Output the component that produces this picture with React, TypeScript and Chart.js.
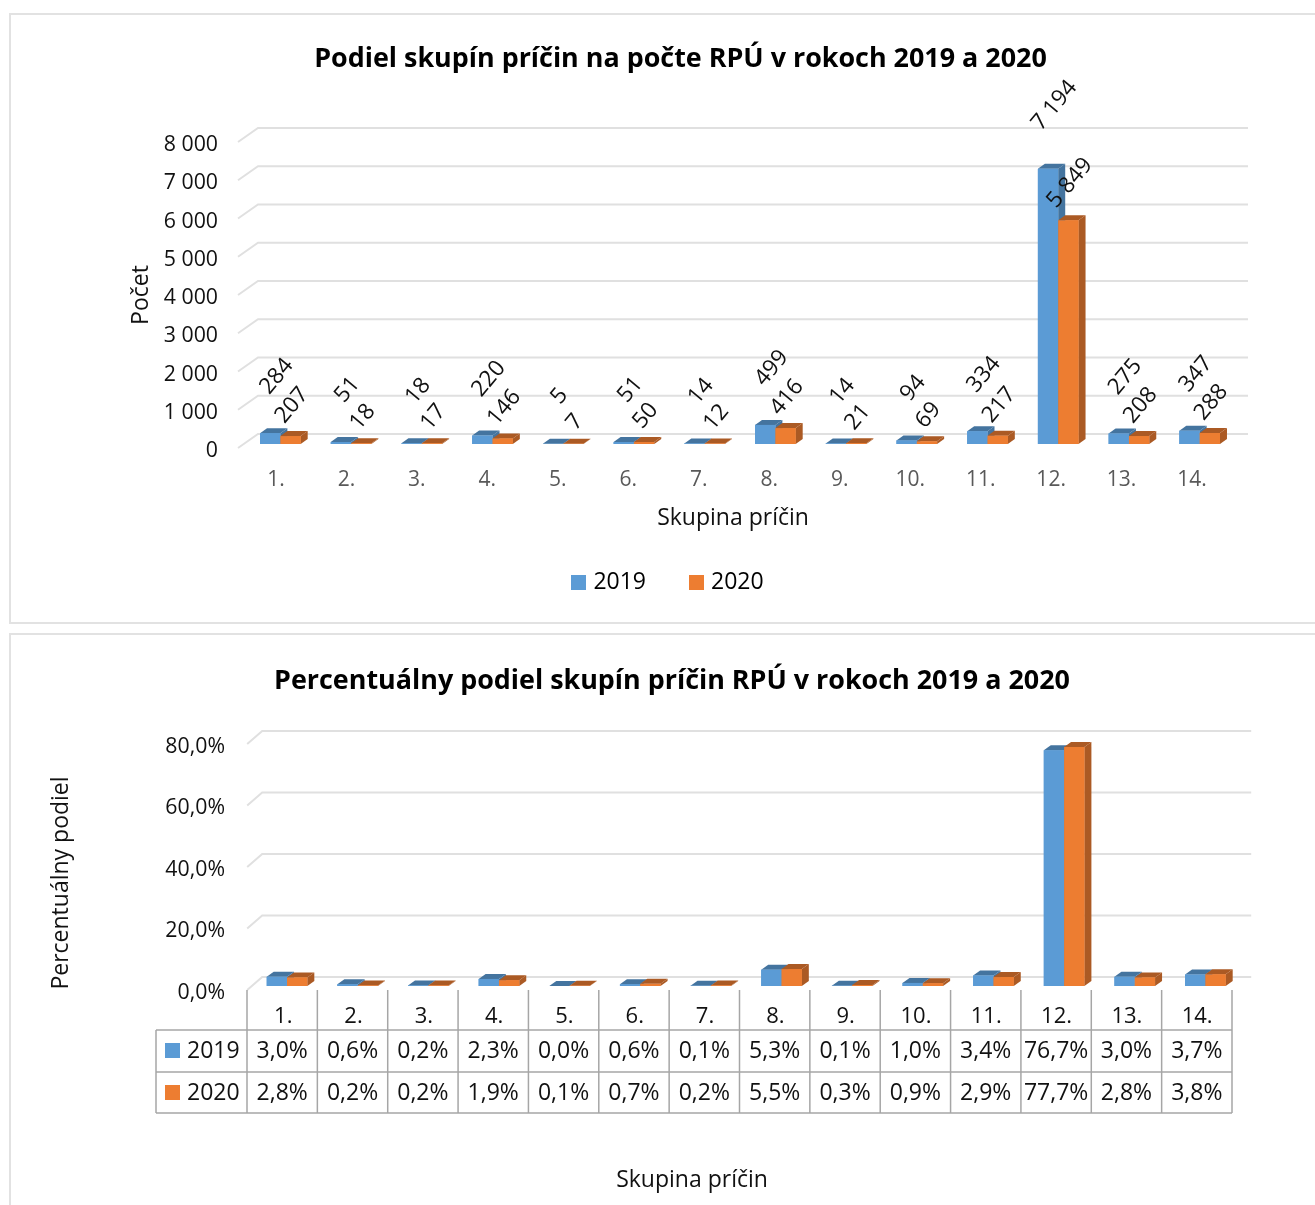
import React, { useEffect, useRef } from "react";
import { Chart, registerables } from "chart.js";

Chart.register(...registerables);

const categories = ["1.", "2.", "3.", "4.", "5.", "6.", "7.", "8.", "9.", "10.", "11.", "12.", "13.", "14."];
const counts2019 = [284, 51, 18, 220, 5, 51, 14, 499, 14, 94, 334, 7194, 275, 347];
const counts2020 = [207, 18, 17, 146, 7, 50, 12, 416, 21, 69, 217, 5849, 208, 288];
const share2019 = [3.0, 0.6, 0.2, 2.3, 0.0, 0.6, 0.1, 5.3, 0.1, 1.0, 3.4, 76.7, 3.0, 3.7];
const share2020 = [2.8, 0.2, 0.2, 1.9, 0.1, 0.7, 0.2, 5.5, 0.3, 0.9, 2.9, 77.7, 2.8, 3.8];
const seriesNames = ["2019", "2020"];

const FONT = '"Open Sans"';
const BLUE = "#5b9bd5";
const ORANGE = "#ed7d31";
const BLUE_DARK = "#44749f";
const ORANGE_DARK = "#ab5a24";
const GRID = "#e0e0e0";
const TABLE_LINE = "#a6a6a6";
const DEPTH_X = 7;
const DEPTH_Y = 5;

const thousands = (v: number) => String(v).replace(/\B(?=(\d{3})+$)/g, " ");
const percent = (v: number) => v.toFixed(1).replace(".", ",") + "%";

// Draws the back-wall grid, the floor stubs and the 3D faces of each bar.
const depthPlugin = (gridShift: number, frontDrop: number, wallDx: number, stubDx: number) => ({
  id: "depth3d",
  beforeDatasetsDraw(chart: any) {
    const { ctx, scales, chartArea } = chart;
    const y = scales.y;
    ctx.save();
    ctx.strokeStyle = GRID;
    ctx.lineWidth = 2;
    y.ticks.forEach((t: any) => {
      const p = y.getPixelForValue(t.value);
      ctx.beginPath();
      ctx.moveTo(chartArea.left + wallDx - stubDx, p + frontDrop);
      ctx.lineTo(chartArea.left + wallDx, p - gridShift);
      ctx.lineTo(chartArea.right + wallDx, p - gridShift);
      ctx.stroke();
    });
    ctx.restore();
  },
  afterDatasetsDraw(chart: any) {
    const { ctx } = chart;
    chart.data.datasets.forEach((ds: any, i: number) => {
      const dark = ds.sideColor;
      chart.getDatasetMeta(i).data.forEach((el: any) => {
        const l = el.x - el.width / 2;
        const r = el.x + el.width / 2;
        ctx.save();
        ctx.fillStyle = dark;
        ctx.beginPath();
        ctx.moveTo(r, el.y);
        ctx.lineTo(r + DEPTH_X, el.y - DEPTH_Y);
        ctx.lineTo(r + DEPTH_X, el.base - DEPTH_Y);
        ctx.lineTo(r, el.base);
        ctx.closePath();
        ctx.fill();
        ctx.beginPath();
        ctx.moveTo(l, el.y);
        ctx.lineTo(l + DEPTH_X, el.y - DEPTH_Y);
        ctx.lineTo(r + DEPTH_X, el.y - DEPTH_Y);
        ctx.lineTo(r, el.y);
        ctx.closePath();
        ctx.fill();
        ctx.restore();
        el.draw(ctx);
      });
    });
  },
});

// Moves the library's own title, legend, tick labels and axis titles to their exact spot.
const placementPlugin = (p: any) => ({
  id: "placement",
  afterLayout(chart: any) {
    if (chart.$placed) return;
    chart.$placed = true;
    chart.titleBlock.left += p.titleDx;
    chart.titleBlock.right += p.titleDx;
    if (chart.legend && p.legendDx !== undefined) {
      chart.legend.left += p.legendDx;
      chart.legend.right += p.legendDx;
      chart.legend.top += p.legendDy;
      chart.legend.bottom += p.legendDy;
    }
    (["x", "y"] as const).forEach((k) => {
      const s = chart.scales[k];
      const original = s.drawTitle;
      s.drawTitle = function () {
        chart.ctx.save();
        chart.ctx.translate(p[k + "TitleDx"], p[k + "TitleDy"]);
        original.call(this);
        chart.ctx.restore();
      };
    });
  },
  beforeDraw(chart: any) {
    // The category labels run on a slightly tighter step than the bars.
    if (chart.$ticksPlaced) return;
    chart.$ticksPlaced = true;
    const items = chart.scales.x.getLabelItems(chart.chartArea);
    const mid = (items.length - 1) / 2;
    items.forEach((it: any, i: number) => {
      it.options.translation[0] += (i - mid) * p.labelStepAdjust;
    });
  },
});

const valueLabelPlugin = {
  id: "valueLabels",
  afterDatasetsDraw(chart: any) {
    const { ctx } = chart;
    ctx.save();
    ctx.font = `22.5px ${FONT}`;
    ctx.fillStyle = "#111111";
    ctx.textAlign = "center";
    ctx.textBaseline = "middle";
    chart.data.datasets.forEach((ds: any, i: number) => {
      chart.getDatasetMeta(i).data.forEach((el: any, j: number) => {
        const text = thousands(ds.data[j]);
        const w = ctx.measureText(text).width;
        const cy = el.y - ds.labelGap - (w + 20) * 0.354;
        ctx.save();
        ctx.translate(el.x + ds.labelDx, cy);
        ctx.rotate((-50 * Math.PI) / 180);
        ctx.fillText(text, 0, 0);
        ctx.restore();
      });
    });
    ctx.restore();
  },
};

// The data table under the second chart; canvas is placed at page y = 625.
const TABLE = { left: 156, first: 247, right: 1232, top: 365, row1: 405, row2: 447, bottom: 488 };
const tablePlugin = {
  id: "dataTable",
  afterDraw(chart: any) {
    const { ctx } = chart;
    const step = (TABLE.right - TABLE.first) / categories.length;
    ctx.save();
    ctx.strokeStyle = TABLE_LINE;
    ctx.lineWidth = 1.5;
    [TABLE.row1, TABLE.row2, TABLE.bottom].forEach((y) => {
      ctx.beginPath();
      ctx.moveTo(TABLE.left, y);
      ctx.lineTo(TABLE.right, y);
      ctx.stroke();
    });
    ctx.beginPath();
    ctx.moveTo(TABLE.left, TABLE.row1);
    ctx.lineTo(TABLE.left, TABLE.bottom);
    ctx.stroke();
    for (let i = 0; i <= categories.length; i++) {
      const x = TABLE.first + i * step;
      ctx.beginPath();
      ctx.moveTo(x, TABLE.top);
      ctx.lineTo(x, TABLE.bottom);
      ctx.stroke();
    }
    ctx.font = `23px ${FONT}`;
    ctx.textBaseline = "middle";
    chart.data.datasets.forEach((ds: any, r: number) => {
      const cy = r === 0 ? 426 : 468;
      ctx.fillStyle = ds.backgroundColor;
      ctx.fillRect(165, cy - 8, 15, 15);
      ctx.fillStyle = "#111111";
      ctx.textAlign = "left";
      ctx.fillText(ds.label, 187, cy);
      ctx.textAlign = "center";
      ds.data.forEach((v: number, c: number) => {
        ctx.fillText(percent(v), TABLE.first + (c + 0.5) * step, cy);
      });
    });
    ctx.restore();
  },
};

const swatch = (color: string) => {
  const c = document.createElement("canvas");
  c.width = 15;
  c.height = 15;
  const g = c.getContext("2d")!;
  g.fillStyle = color;
  g.fillRect(0, 0, 15, 15);
  return c;
};

const datasets = (a: number[], b: number[]) => [
  { label: seriesNames[0], data: a, backgroundColor: BLUE, sideColor: BLUE_DARK, labelGap: 36, labelDx: 6.5, borderWidth: 0 },
  { label: seriesNames[1], data: b, backgroundColor: ORANGE, sideColor: ORANGE_DARK, labelGap: 10, labelDx: 1.5, borderWidth: 0 },
];

const axisTitle = (text: string) => ({ display: true, text, color: "#111111", padding: 0, font: { family: FONT, size: 23 } });

const titleOpts = (text: string, top: number, bottom: number) => ({
  display: true,
  text,
  color: "#000000",
  font: { family: FONT, size: 26.9, weight: "bold" as const, lineHeight: 1.2 },
  padding: { top, bottom },
});

function makeCountChart(canvas: HTMLCanvasElement) {
  return new Chart(canvas, {
    type: "bar",
    data: { labels: categories, datasets: datasets(counts2019, counts2020) as any },
    plugins: [
      depthPlugin(10, 4, 13, 20),
      valueLabelPlugin,
      placementPlugin({ titleDx: 63, legendDx: 52.25, legendDy: -21.5, xTitleDx: -7, xTitleDy: -12.7, yTitleDx: 127.5, yTitleDy: 4, labelStepAdjust: -0.24 }),
    ],
    options: {
      responsive: false,
      animation: false,
      layout: { padding: { left: 0, right: 80, top: 0, bottom: 0 } },
      datasets: { bar: { categoryPercentage: 0.575, barPercentage: 1 } },
      plugins: {
        tooltip: { enabled: false },
        title: titleOpts("Podiel skupín príčin na počte RPÚ v rokoch 2019 a 2020", 43, 62.72),
        legend: {
          position: "bottom",
          labels: {
            usePointStyle: true,
            pointStyleWidth: 6,
            boxHeight: 15,
            padding: 47.5,
            color: "#222222",
            font: { family: FONT, size: 23 },
            generateLabels: (c: any) =>
              c.data.datasets.map((d: any, i: number) => ({
                text: d.label,
                pointStyle: swatch(d.backgroundColor),
                fillStyle: d.backgroundColor,
                datasetIndex: i,
                lineWidth: 0,
              })),
          },
        },
      },
      scales: {
        x: {
          grid: { display: false },
          border: { display: false },
          afterFit: (s: any) => { s.height = 100.5; },
          ticks: { color: "#595959", padding: 15, labelOffset: -6, autoSkip: false, maxRotation: 0, font: { family: FONT, size: 21 } },
          title: axisTitle("Skupina príčin"),
        },
        y: {
          min: 0,
          max: 8000,
          grid: { display: false },
          border: { display: false },
          afterFit: (s: any) => { s.width = 245; },
          ticks: { stepSize: 1000, color: "#111111", padding: 19, labelOffset: 7, callback: (v: any) => thousands(v), font: { family: FONT, size: 21.3 } },
          title: axisTitle("Počet"),
        },
      },
    },
  } as any);
}

function makeShareChart(canvas: HTMLCanvasElement) {
  return new Chart(canvas, {
    type: "bar",
    data: { labels: categories, datasets: datasets(share2019, share2020) as any },
    plugins: [
      depthPlugin(9, 4, 10.5, 15),
      tablePlugin,
      placementPlugin({ titleDx: 51.65, xTitleDx: -54.2, xTitleDy: -11.2, yTitleDx: 47.2, yTitleDy: 20, labelStepAdjust: -0.34 }),
    ],
    options: {
      responsive: false,
      animation: false,
      layout: { padding: { left: 0, right: 74.3, top: 0, bottom: 0 } },
      datasets: { bar: { categoryPercentage: 0.575, barPercentage: 1 } },
      plugins: {
        tooltip: { enabled: false },
        legend: { display: false },
        title: titleOpts("Percentuálny podiel skupín príčin RPÚ v rokoch 2019 a 2020", 39.92, 42.8),
      },
      scales: {
        x: {
          grid: { display: false },
          border: { display: false },
          afterFit: (s: any) => { s.height = 219; },
          ticks: { color: "#111111", padding: 9.4, labelOffset: -6, autoSkip: false, maxRotation: 0, font: { family: FONT, size: 22 } },
          title: axisTitle("Skupina príčin"),
        },
        y: {
          min: 0,
          max: 80,
          grid: { display: false },
          border: { display: false },
          afterFit: (s: any) => { s.width = 251.7; },
          ticks: { stepSize: 20, color: "#111111", padding: 18.7, labelOffset: 6.5, callback: (v: any) => percent(v), font: { family: FONT, size: 21.3 } },
          title: axisTitle("Percentuálny podiel"),
        },
      },
    },
  } as any);
}

const frame: React.CSSProperties = { position: "absolute", left: 9, width: 1400, boxSizing: "border-box", border: "2px solid #e2e2e2" };

export default function App() {
  const a = useRef<HTMLCanvasElement>(null);
  const b = useRef<HTMLCanvasElement>(null);
  useEffect(() => {
    const c1 = makeCountChart(a.current!);
    const c2 = makeShareChart(b.current!);
    return () => {
      c1.destroy();
      c2.destroy();
    };
  }, []);
  return (
    <div style={{ position: "absolute", left: 0, top: 0, width: 1315, height: 1205, overflow: "hidden", background: "#fff" }}>
      <div style={{ ...frame, top: 13, height: 611 }} />
      <div style={{ ...frame, top: 633, height: 700 }} />
      <canvas ref={a} width={1315} height={625} style={{ position: "absolute", left: 0, top: 0 }} />
      <canvas ref={b} width={1315} height={580} style={{ position: "absolute", left: 0, top: 625 }} />
    </div>
  );
}
